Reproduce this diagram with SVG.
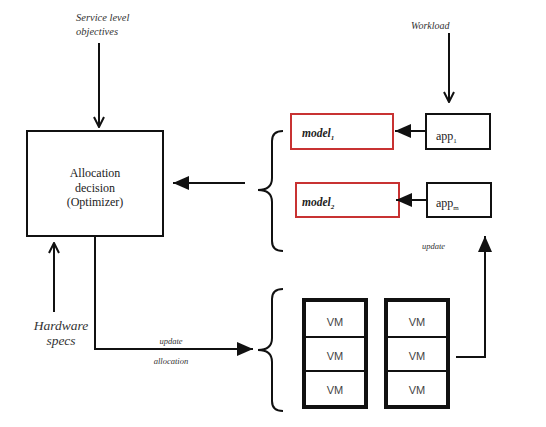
<svg xmlns="http://www.w3.org/2000/svg" width="546" height="427" viewBox="0 0 546 427">
<defs>
<marker id="open" viewBox="0 0 12 12" refX="11" refY="6" markerWidth="12" markerHeight="12" markerUnits="userSpaceOnUse" orient="auto"><path d="M1,1 L11,6 L1,11" fill="none" stroke="#111" stroke-width="2"/></marker>
<marker id="fill" viewBox="0 0 16 14" refX="16" refY="7" markerWidth="16" markerHeight="14" markerUnits="userSpaceOnUse" orient="auto"><path d="M0,0 L16,7 L0,14 Z" fill="#111"/></marker>
</defs>
<style>
.lbl{font-family:"Liberation Serif","Times New Roman",serif;font-style:italic;fill:#333}
.box{fill:#fff;stroke:#111;stroke-width:2}
.red{fill:#fff;stroke:#c83232;stroke-width:2}
.ln{fill:none;stroke:#111;stroke-width:2}
.t{font-family:"Liberation Serif","Times New Roman",serif;fill:#222}
.vm{font-family:"Liberation Sans",Arial,sans-serif;font-size:11px;fill:#444;text-anchor:middle}
.vmb{fill:#fff;stroke:#111;stroke-width:4}
</style>
<rect width="546" height="427" fill="#fff"/>
<g id="labels">
<text class="lbl" x="76" y="21" font-size="10.5">Service level</text>
<text class="lbl" x="76" y="35" font-size="10.5">objectives</text>
<text class="lbl" x="411" y="29" font-size="10">Workload</text>
<text class="lbl" x="61" y="330" font-size="13.5" text-anchor="middle">Hardware</text>
<text class="lbl" x="61" y="345" font-size="13.5" text-anchor="middle">specs</text>
<text class="lbl" x="171" y="344" font-size="8.5" text-anchor="middle">update</text>
<text class="lbl" x="171" y="364" font-size="8.5" text-anchor="middle">allocation</text>
<text class="lbl" x="422" y="249" font-size="8.5">update</text>
</g>
<g id="optimizer">
<rect class="box" x="27" y="131" width="136" height="105"/>
<text class="t" x="95" y="177" font-size="12" text-anchor="middle">Allocation</text>
<text class="t" x="95" y="192" font-size="12" text-anchor="middle">decision</text>
<text class="t" x="95" y="206" font-size="12" text-anchor="middle">(Optimizer)</text>
</g>
<g id="model1">
<rect class="red" x="291" y="114" width="102" height="35"/>
<text class="t" x="302" y="137" font-size="11.5" font-weight="bold" font-style="italic">model<tspan font-size="7" dy="3">1</tspan></text>
</g>
<g id="model2">
<rect class="red" x="296" y="183" width="103" height="34"/>
<text class="t" x="302" y="206" font-size="11.5" font-weight="bold" font-style="italic">model<tspan font-size="7" dy="3">2</tspan></text>
</g>
<g id="app1">
<rect class="box" x="426" y="114" width="64" height="35"/>
<text class="t" x="436" y="140" font-size="12">app<tspan font-size="7" dy="3">1</tspan></text>
</g>
<g id="appm">
<rect class="box" x="427" y="183" width="64" height="34"/>
<text class="t" x="436" y="207" font-size="12">app<tspan font-size="7" dy="3">m</tspan></text>
</g>
<g id="vms1">
<rect class="vmb" x="304" y="300" width="62" height="107"/>
<line class="ln" x1="304" y1="337" x2="366" y2="337"/>
<line class="ln" x1="304" y1="371" x2="366" y2="371"/>
<text class="vm" x="335" y="326">VM</text>
<text class="vm" x="335" y="360">VM</text>
<text class="vm" x="335" y="394">VM</text>
</g>
<g id="vms2">
<rect class="vmb" x="386" y="300" width="62" height="107"/>
<line class="ln" x1="386" y1="337" x2="448" y2="337"/>
<line class="ln" x1="386" y1="371" x2="448" y2="371"/>
<text class="vm" x="417" y="326">VM</text>
<text class="vm" x="417" y="360">VM</text>
<text class="vm" x="417" y="394">VM</text>
</g>
<g id="braces">
<path class="ln" d="M283,131 Q272,131 272,141 L272,178 Q272,190 258,190 Q272,190 272,202 L272,241 Q272,251 283,251"/>
<path class="ln" d="M283,289 Q272,289 272,299 L272,338 Q272,350 258,350 Q272,350 272,362 L272,401 Q272,411 283,411"/>
</g>
<g id="connectors">
<line class="ln" x1="99" y1="43" x2="99" y2="127" marker-end="url(#open)"/>
<line class="ln" x1="449" y1="33" x2="449" y2="102" marker-end="url(#open)"/>
<line class="ln" x1="54" y1="312" x2="54" y2="243" marker-end="url(#open)"/>
<line class="ln" x1="245" y1="183" x2="173" y2="183" marker-end="url(#fill)"/>
<line class="ln" x1="426" y1="131" x2="395" y2="131" marker-end="url(#fill)"/>
<line class="ln" x1="427" y1="200" x2="396" y2="200" marker-end="url(#fill)"/>
<polyline class="ln" points="95,236 95,349 253,349" marker-end="url(#fill)"/>
<polyline class="ln" points="456,357 485,357 485,236" marker-end="url(#fill)"/>
</g>
</svg>
